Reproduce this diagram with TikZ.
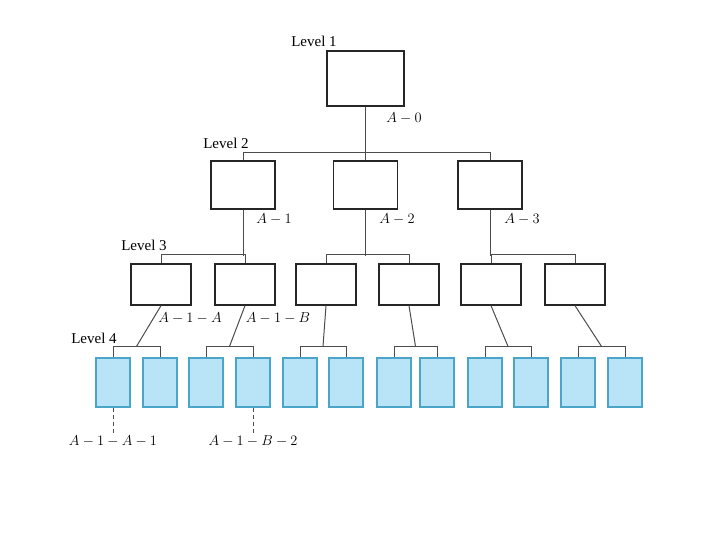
\documentclass[tikz,border=0pt]{standalone}
\usepackage{fontspec}
\setmainfont{Liberation Serif}
\usetikzlibrary{calc}
\definecolor{leaffill}{RGB}{185,228,247}
\definecolor{leafline}{RGB}{75,165,200}
\begin{document}
\begin{tikzpicture}[x=1pt,y=-1pt,
  box/.style={draw=black!85,line width=1.3pt,inner sep=0pt},
  leaf/.style={draw=leafline,fill=leaffill,line width=1.2pt,inner sep=0pt,minimum width=34pt,minimum height=49pt},
  link/.style={draw=black!70,line width=1pt},
  lbl/.style={font=\fontsize{15}{17}\selectfont,inner sep=1pt}]
\useasboundingbox (0,0) rectangle (720,540);
\node[box,minimum width=77pt,minimum height=55pt] (r) at (365.5,78.5) {};
\foreach \n/\x in {1/243,2/365.5,3/490}
  \node[box,minimum width=64pt,minimum height=48pt] (b\n) at (\x,185) {};
\foreach \n/\x in {1/161,2/245,3/326,4/409,5/491,6/575}
  \node[box,minimum width=60pt,minimum height=41pt] (c\n) at (\x,284.5) {};
\foreach \n/\x in {1/113,2/160,3/206,4/253,5/300,6/346,7/394,8/437,9/485,10/531,11/578,12/625}
  \node[leaf] (d\n) at (\x,382.5) {};
\draw[link] (r.south) -- (b2.north);
\draw[link] (b1.north) -- ++(0,-8) -| (b3.north);
\foreach \i/\a/\b in {1/1/2,2/3/4,3/5/6} {
  \draw[link] (c\a.north) -- ++(0,-9) -| (c\b.north);
  \draw[link] (b\i.south) -- ++(0,46);
}
\foreach \i/\a/\b in {1/1/2,2/3/4,3/5/6,4/7/8,5/9/10,6/11/12} {
  \draw[link] (d\a.north) -- ++(0,-11) -| (d\b.north);
  \coordinate (m\i) at ($(d\a.north)!.5!(d\b.north)+(0,-11)$);
  \draw[link] (c\i.south) -- (m\i);
}
\node[lbl] (lv1) at (314,41) {Level 1};
\node[lbl] (lv2) at (226,143) {Level 2};
\node[lbl] (lv3) at (144,245) {Level 3};
\node[lbl] (lv4) at (94,338) {Level 4};
\node[lbl] (a0) at (404,118) {$A-0$};
\node[lbl] (a1) at (274,219) {$A-1$};
\node[lbl] (a2) at (397,219) {$A-2$};
\node[lbl] (a3) at (522,219) {$A-3$};
\node[lbl] (a1a) at (190,318) {$A-1-A$};
\node[lbl] (a1b) at (278,318) {$A-1-B$};
\node[lbl] (t1) at (113,441) {$A-1-A-1$};
\node[lbl] (t2) at (253,441) {$A-1-B-2$};
\draw[link,dash pattern=on 4pt off 3pt] (d1.south) -- (t1.north);
\draw[link,dash pattern=on 4pt off 3pt] (d4.south) -- (t2.north);
\end{tikzpicture}
\end{document}
